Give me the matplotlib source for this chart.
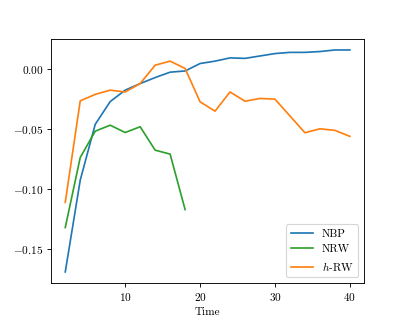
import matplotlib
matplotlib.use("Agg")
import matplotlib.pyplot as plt

plt.rcParams["font.family"] = "serif"
plt.rcParams["font.serif"] = ["cmr10"]
plt.rcParams["mathtext.fontset"] = "cm"
plt.rcParams["axes.formatter.use_mathtext"] = True

time_nbp = [2, 4, 6, 8, 10, 12, 14, 16, 18, 20, 22, 24, 26, 28, 30, 32, 34, 36, 38, 40]
nbp = [-0.169, -0.0925, -0.046, -0.027, -0.0175, -0.012, -0.007, -0.0025, -0.0015, 0.0047,
       0.0067, 0.0094, 0.009, 0.011, 0.013, 0.014, 0.014, 0.0147, 0.016, 0.016]

time_nrw = [2, 4, 6, 8, 10, 12, 14, 16, 18]
nrw = [-0.132, -0.0736, -0.0517, -0.0467, -0.0528, -0.048, -0.0675, -0.0708, -0.117]

time_hrw = [2, 4, 6, 8, 10, 12, 14, 16, 18, 20, 22, 24, 26, 28, 30, 32, 34, 36, 38, 40]
hrw = [-0.111, -0.0264, -0.021, -0.0175, -0.019, -0.012, 0.0033, 0.0067, 0.0006, -0.0272,
       -0.035, -0.019, -0.0267, -0.0244, -0.025, -0.039, -0.053, -0.0497, -0.051, -0.056]

fig = plt.figure(figsize=(5, 4), dpi=81)
ax = fig.add_axes([0.126, 0.1265, 0.773, 0.7535])

ax.plot(time_nbp, nbp, color="#1f77b4", label="NBP")
ax.plot(time_nrw, nrw, color="#2ca02c", label="NRW")
ax.plot(time_hrw, hrw, color="#ff7f0e", label=r"$h$-RW")

ax.set_xlabel("Time")
ax.set_xticks([10, 20, 30, 40])
ax.set_yticks([-0.15, -0.10, -0.05, 0.00])
ax.legend(loc="lower right")

fig.savefig("out.png", dpi=81)
